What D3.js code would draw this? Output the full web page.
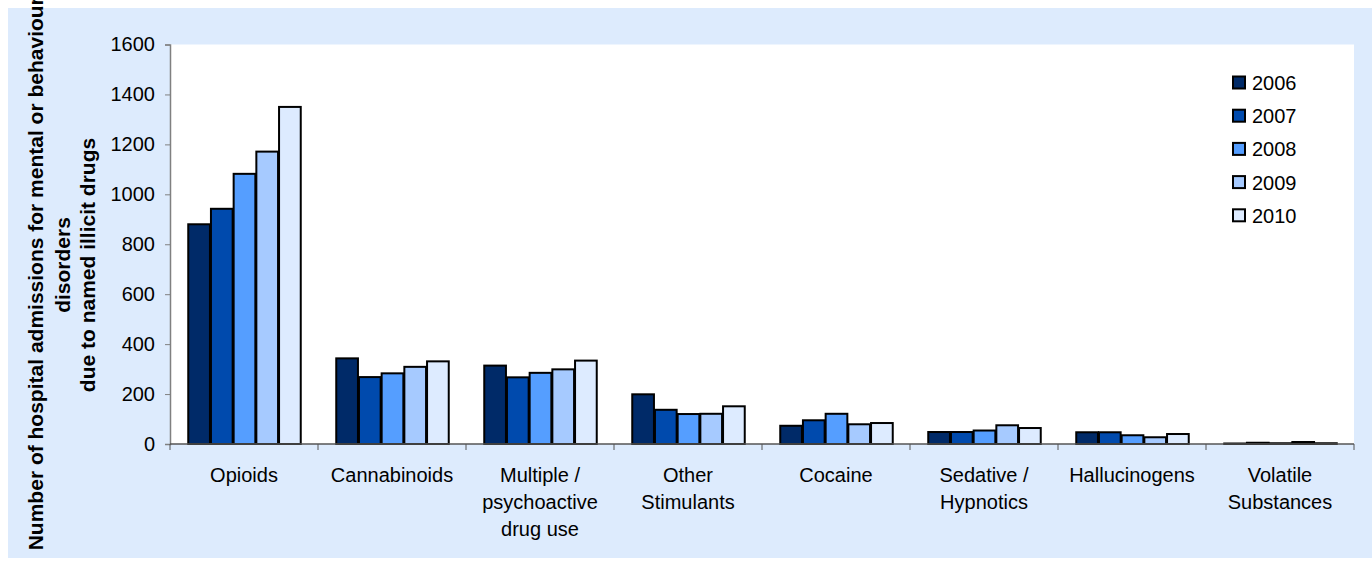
<!DOCTYPE html>
<html><head><meta charset="utf-8">
<script src="https://cdn.jsdelivr.net/npm/d3@7"></script>
<style>body{margin:0;background:#fff}svg{display:block;font-family:"Liberation Sans",Arial,sans-serif}</style>
</head><body><svg id="c" width="1372" height="561"></svg>
<script>
const categories = [["Opioids"],["Cannabinoids"],["Multiple /","psychoactive","drug use"],["Other","Stimulants"],["Cocaine"],["Sedative /","Hypnotics"],["Hallucinogens"],["Volatile","Substances"]];
const years = ["2006","2007","2008","2009","2010"];
const v2006 = [880, 343, 314, 199, 73, 48, 47, 2];
const v2007 = [942, 268, 267, 137, 95, 48, 47, 5];
const v2008 = [1082, 283, 285, 120, 121, 54, 35, 3];
const v2009 = [1171, 309, 299, 121, 79, 75, 27, 8];
const v2010 = [1350, 331, 334, 151, 84, 64, 40, 3];
const series = [v2006, v2007, v2008, v2009, v2010];
const yTicks = [0,200,400,600,800,1000,1200,1400,1600];
const colors = ["#002A68","#004AAD","#559EFF","#A6CAFF","#DDEBFF"];
const titleLines = ["Number of hospital admissions for mental or behavioural","disorders","due to named illicit drugs"];

const svg = d3.select("#c");
svg.append("rect").attr("x",8).attr("y",8).attr("width",1364).attr("height",550).attr("fill","#DDEBFD");
const L=170,R=1354,T=44.5,B=444;
svg.append("rect").attr("x",L).attr("y",T).attr("width",R-L).attr("height",B-T).attr("fill","#fff");

const x0 = d3.scaleBand().domain(d3.range(categories.length)).range([L,R]).padding(0);
const x1 = d3.scaleBand().domain(years).range([0,x0.bandwidth()]).paddingInner(0).paddingOuter(0.76);
const y = d3.scaleLinear().domain([0,1600]).range([B,T]);

const g = svg.append("g");
years.forEach((yr,i)=>{
  g.selectAll(null).data(series[i]).enter().append("rect")
   .attr("x",(d,j)=>x0(j)+x1(yr)+1)
   .attr("y",d=>y(d))
   .attr("width",x1.bandwidth()-1)
   .attr("height",d=>B-y(d))
   .attr("fill",colors[i]).attr("stroke","#000").attr("stroke-width",2);
});

// y axis
const ya = svg.append("g").attr("transform",`translate(${L},0)`).call(d3.axisLeft(y).tickValues(yTicks).tickSize(5).tickPadding(10).tickFormat(d3.format("d")));
ya.select(".domain").attr("stroke","#808080").attr("stroke-width",1.5);
ya.selectAll(".tick line").attr("stroke","#808080");
ya.selectAll("text").attr("font-size",20).attr("fill","#000").attr("font-family","Liberation Sans, Arial");

// x axis
const xa = svg.append("g").attr("transform",`translate(0,${B})`);
xa.append("line").attr("x1",L).attr("x2",R).attr("stroke","#555").attr("stroke-width",1.5);
const bounds = d3.range(categories.length+1).map(i=> i<categories.length? x0(i): R);
xa.selectAll(".tk").data(bounds).enter().append("line").attr("x1",d=>d).attr("x2",d=>d).attr("y1",0).attr("y2",6).attr("stroke","#555");
categories.forEach((lines,j)=>{
  const t = xa.append("text").attr("text-anchor","middle").attr("font-size",20).attr("fill","#000")
    .attr("x",x0(j)+x0.bandwidth()/2).attr("y",38);
  lines.forEach((ln,k)=>t.append("tspan").attr("x",x0(j)+x0.bandwidth()/2).attr("dy",k?27:0).text(ln));
});

// title
const tt = svg.append("g").attr("transform","translate(0,265) rotate(-90)");
const tbase=[43,70,95];
titleLines.forEach((ln,k)=>tt.append("text").attr("x",0).attr("y",tbase[k]).attr("text-anchor","middle").attr("font-weight","bold").attr("font-size",21).text(ln));

// legend
const lg = svg.append("g");
years.forEach((yr,i)=>{
  const cy = 83 + i*33.2;
  lg.append("rect").attr("x",1233).attr("y",cy-6.5).attr("width",12).attr("height",12).attr("fill",colors[i]).attr("stroke","#000").attr("stroke-width",2);
  lg.append("text").attr("x",1252).attr("y",cy+7).attr("font-size",20).text(yr);
});
</script></body></html>
